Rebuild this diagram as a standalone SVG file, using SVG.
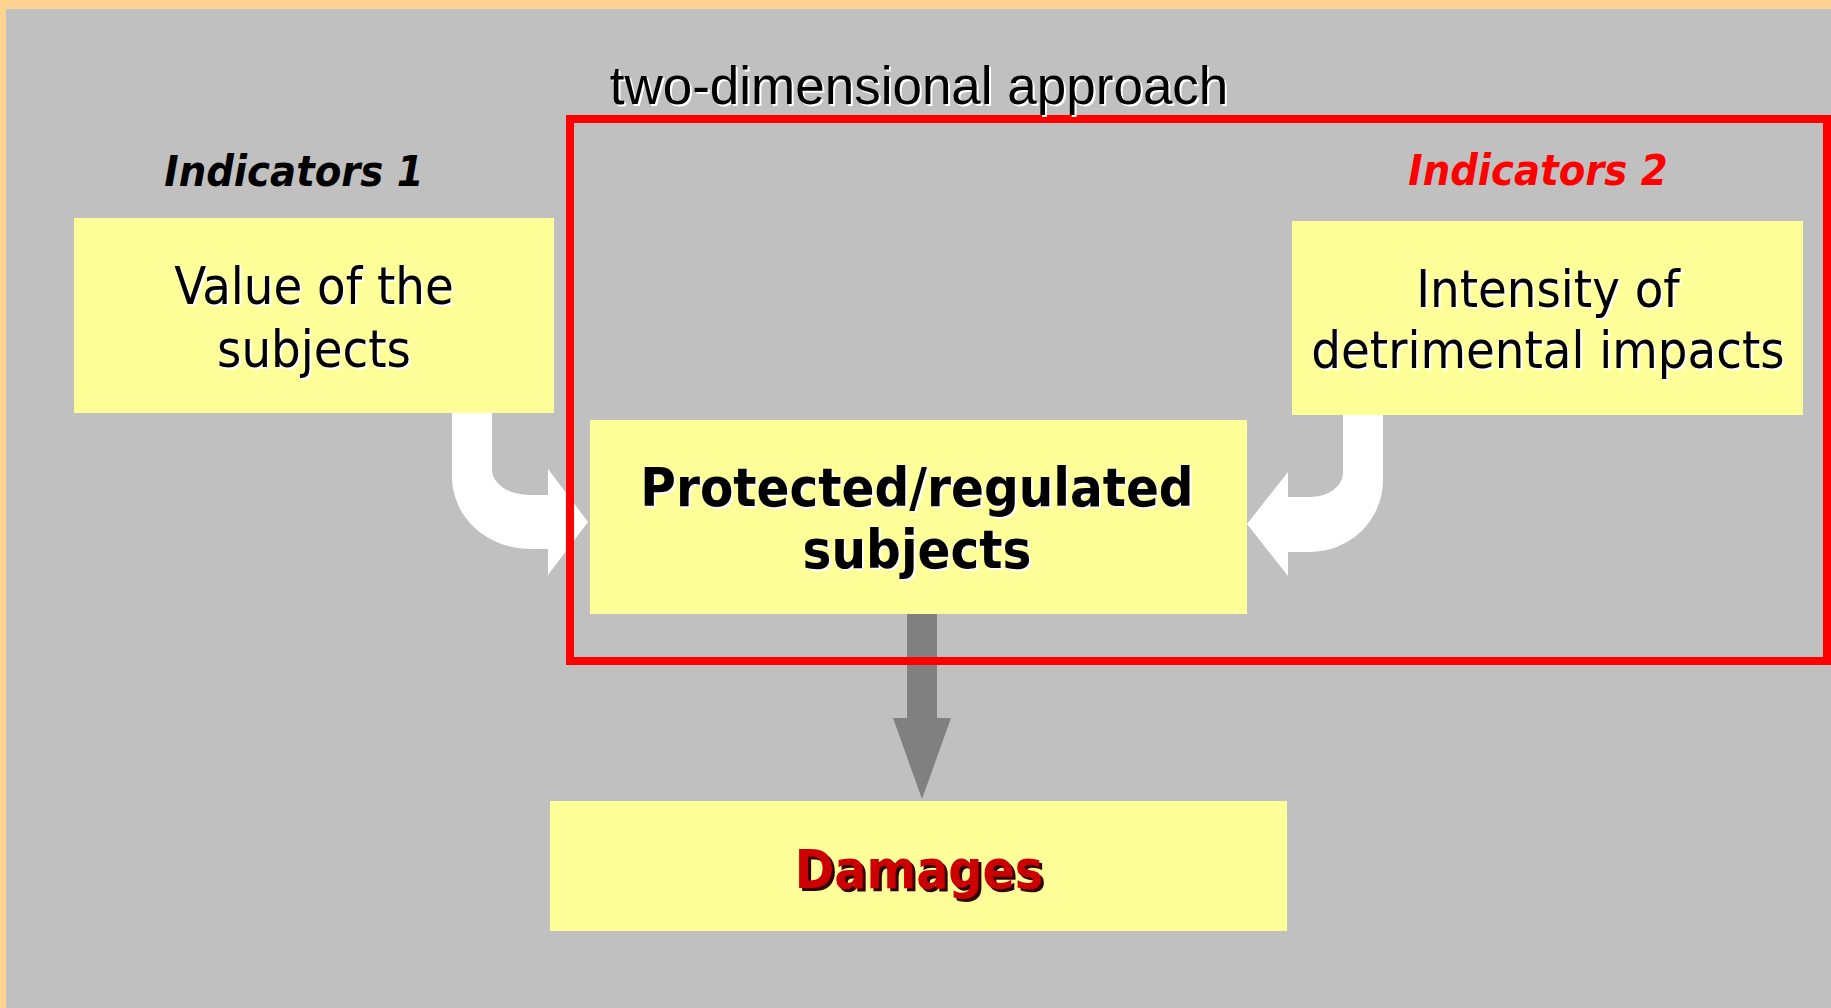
<svg xmlns="http://www.w3.org/2000/svg" width="1831" height="1008" viewBox="0 0 1831 1008">
  <defs>
    <style>
      .box { fill: #FFFF99; }
      .t { font-family: "DejaVu Sans Condensed", "DejaVu Sans", sans-serif; font-stretch: condensed; text-anchor: middle; }
      .reg { font-size: 52px; fill: #000000; }
      .bold { font-weight: bold; }
      .sh { fill: #FFFFFF; }
      .ind { font-size: 43px; font-weight: bold; font-style: italic; }
    </style>
  </defs>
  <rect x="0" y="0" width="1831" height="1008" fill="#FFD391"/>
  <rect x="6" y="9" width="1825" height="999" fill="#C0C0C0"/>

  <g id="node-value">
    <rect class="box" x="74" y="218" width="480" height="195"/>
  </g>
  <g id="node-intensity">
    <rect class="box" x="1292" y="221" width="511" height="194"/>
  </g>
  <g id="node-protected">
    <rect class="box" x="590" y="420" width="657" height="194"/>
  </g>
  <g id="node-damages">
    <rect class="box" x="550" y="801" width="737" height="130"/>
  </g>

  <g id="connectors">
    <path fill="#FFFFFF" d="M452,413 H492 V470 A38,25 0 0 0 530,495 H548 V469 L588,522 L548,575 V549 H530 A78,72 0 0 1 452,477 Z"/>
    <path fill="#FFFFFF" d="M1383,415 H1343 V473 A33,24 0 0 1 1310,497 H1288 V472 L1247,524 L1288,576 V552 H1310 A73,72 0 0 0 1383,480 Z"/>
    <path fill="#808080" d="M907,614 H937 V718 H951 L922,799 L893,718 H907 Z"/>
  </g>

  <g id="frame-two-dimensional">
    <rect x="570" y="119" width="1257" height="542" fill="none" stroke="#FF0000" stroke-width="8"/>
    <text x="921" y="106" font-family="'Liberation Sans', Arial, sans-serif" font-size="53" text-anchor="middle" fill="#FFFFFF">two-dimensional approach</text>
    <text x="919" y="104" font-family="'Liberation Sans', Arial, sans-serif" font-size="53" text-anchor="middle" fill="#000000">two-dimensional approach</text>
  </g>

  <g id="label-indicators-1">
    <text class="t ind" x="294" y="186" fill="#000000">Indicators 1</text>
  </g>
  <g id="label-indicators-2">
    <text class="t ind" x="1538" y="185" fill="#FF0000">Indicators 2</text>
  </g>

  <g id="text-value">
    <text class="t reg sh" x="316" y="306">Value of the</text>
    <text class="t reg sh" x="316" y="369">subjects</text>
    <text class="t reg" x="314" y="304">Value of the</text>
    <text class="t reg" x="314" y="367">subjects</text>
  </g>
  <g id="text-intensity">
    <text class="t reg sh" x="1550" y="309" font-size="51.5">Intensity of</text>
    <text class="t reg sh" x="1550" y="370" font-size="51.5">detrimental impacts</text>
    <text class="t reg" x="1548" y="307" font-size="51.5">Intensity of</text>
    <text class="t reg" x="1548" y="368" font-size="51.5">detrimental impacts</text>
  </g>
  <g id="text-protected">
    <text class="t bold sh" x="919" y="508" font-size="54">Protected/regulated</text>
    <text class="t bold sh" x="919" y="570" font-size="54">subjects</text>
    <text class="t bold" x="917" y="506" font-size="54">Protected/regulated</text>
    <text class="t bold" x="917" y="568" font-size="54">subjects</text>
  </g>
  <g id="text-damages">
    <text class="t bold" x="922" y="891" font-size="53" fill="#330000">Damages</text>
    <text class="t bold" x="919" y="888" font-size="53" fill="#CC0000">Damages</text>
  </g>
</svg>
